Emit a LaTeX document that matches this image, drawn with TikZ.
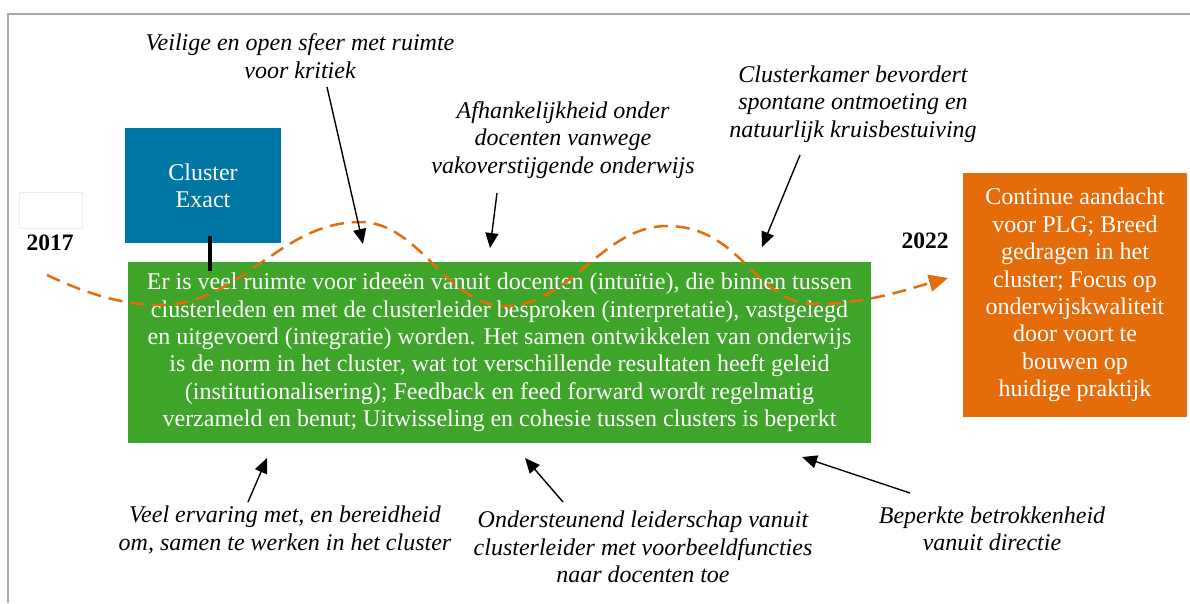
\documentclass[tikz,border=0pt]{standalone}
\usepackage{fontspec}
\setmainfont{Liberation Serif}[
  ItalicFont={Liberation Serif Italic},
  BoldFont={Liberation Serif Bold}]
\usetikzlibrary{arrows.meta}
\definecolor{clusterblue}{RGB}{0,118,163}
\definecolor{phasegreen}{RGB}{62,165,42}
\definecolor{goalorange}{RGB}{228,108,10}
\definecolor{framegray}{RGB}{168,168,168}
\begin{document}
\begin{tikzpicture}[x=1pt,y=-1pt,
  bodyfont/.style={font=\fontsize{24}{27.4}\selectfont},
  box/.style={bodyfont,text=white,align=center,inner sep=0pt,anchor=center},
  factor/.style={font=\fontsize{24}{27.4}\selectfont\itshape,align=center,inner sep=0pt},
  year/.style={font=\fontsize{23.5}{26}\selectfont\bfseries,inner sep=0pt},
  factorarrow/.style={line width=1.4pt,-{Triangle[length=15pt,width=13pt]}},
  timeline/.style={goalorange,line width=2.5pt,dash pattern=on 14pt off 8pt,-{Triangle[length=19pt,width=17pt]}}
]
\useasboundingbox (0,0) rectangle (1190,603);

% frame
\draw[framegray,line width=2pt] (1190,14) -- (8,14) -- (8,603);
\draw[black!7,line width=0.8pt] (19,192) rectangle (82,228);

% boxes
\node[box,fill=clusterblue,minimum width=156pt,minimum height=115pt] (cluster) at (203,185.5) {Cluster\\Exact};
\node[box,fill=phasegreen,minimum width=743pt,minimum height=181pt] (phase) at (499.5,352.5)
  {Er is veel ruimte voor ideeën vanuit docenten (intuïtie), die binnen tussen\\
   clusterleden en met de clusterleider besproken (interpretatie), vastgelegd\\
   en uitgevoerd (integratie) worden. Het samen ontwikkelen van onderwijs\\
   is de norm in het cluster, wat tot verschillende resultaten heeft geleid\\
   (institutionalisering); Feedback en feed forward wordt regelmatig\\
   verzameld en benut; Uitwisseling en cohesie tussen clusters is beperkt};
\node[box,fill=goalorange,minimum width=224pt,minimum height=244pt] (goal) at (1075,295)
  {Continue aandacht\\voor PLG; Breed\\gedragen in het\\cluster; Focus op\\onderwijskwaliteit\\door voort te\\bouwen op\\huidige praktijk};

% years
\node[year] (start) at (50,243) {2017};
\node[year] (end) at (925,241) {2022};

% link between cluster and phase
\coordinate (tickTop) at (210,236);
\coordinate (tickBot) at (210,271);
\draw[line width=4pt] (tickTop) -- (tickBot);

% timeline
\coordinate (w0) at (47,275);
\coordinate (w1) at (160,305);
\coordinate (w2) at (360,222);
\coordinate (w3) at (505,306);
\coordinate (w4) at (667,226);
\coordinate (w5) at (815,304);
\coordinate (w6) at (948,278);
\draw[timeline] (w0) .. controls (85,293) and (122,305) .. (w1)
  .. controls (240,305) and (280,222) .. (w2)
  .. controls (420,222) and (447,306) .. (w3)
  .. controls (570,306) and (602,226) .. (w4)
  .. controls (742,226) and (755,304) .. (w5)
  .. controls (865,304) and (905,290) .. (w6);

% factors above
\node[factor] (fSafe) at (300,56) {Veilige en open sfeer met ruimte\\voor kritiek};
\node[factor] (fDep) at (563,140) {Afhankelijkheid onder\\docenten vanwege\\vakoverstijgende onderwijs};
\node[factor] (fRoom) at (853,104) {Clusterkamer bevordert\\spontane ontmoeting en\\natuurlijk kruisbestuiving};
% factors below
\node[factor] (fExp) at (285,530) {Veel ervaring met, en bereidheid\\om, samen te werken in het cluster};
\node[factor] (fLead) at (643,547) {Ondersteunend leiderschap vanuit\\clusterleider met voorbeeldfuncties\\naar docenten toe};
\node[factor] (fMgmt) at (992,529) {Beperkte betrokkenheid\\vanuit directie};

% arrows
\coordinate (aSafe) at (327,87);   \coordinate (tSafe) at (363,244);
\coordinate (aDep) at (497,193);   \coordinate (tDep) at (490,248);
\coordinate (aRoom) at (800,155);  \coordinate (tRoom) at (762,247);
\coordinate (aExp) at (248,502);   \coordinate (tExp) at (267,458);
\coordinate (aLead) at (563,502);  \coordinate (tLead) at (525,458);
\coordinate (aMgmt) at (910,493);  \coordinate (tMgmt) at (802,457);
\draw[factorarrow] (aSafe) -- (tSafe);
\draw[factorarrow] (aDep) -- (tDep);
\draw[factorarrow] (aRoom) -- (tRoom);
\draw[factorarrow] (aExp) -- (tExp);
\draw[factorarrow] (aLead) -- (tLead);
\draw[factorarrow] (aMgmt) -- (tMgmt);
\end{tikzpicture}
\end{document}
